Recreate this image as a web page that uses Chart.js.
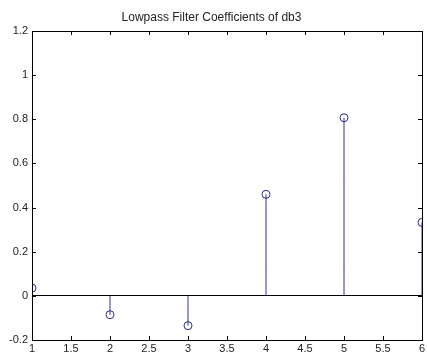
<!DOCTYPE html>
<html>
<head>
<meta charset="utf-8">
<script src="https://cdn.jsdelivr.net/npm/chart.js@4"></script>
<style>
    html, body { margin: 0; padding: 0; background: #fff; }
    #wrap { width: 427px; height: 356px; }
</style>
</head>
<body>
<div id="wrap"><canvas id="stemChart"></canvas></div>
<script>
// db3 lowpass decomposition filter
const indices = [1, 2, 3, 4, 5, 6];
const coeffs = [0.0352, -0.0854, -0.1350, 0.4599, 0.8069, 0.3327];
const xRange = [1, 6];
const yRange = [-0.2, 1.2];

const stemColor = '#2b2b8c';
const tickFont = { family: 'Liberation Sans, Arial', size: 11 };

// one small line dataset per stem: (x,v) -> (x,0)
// tiny tension keeps chart.js off its fast path (which doubles vertical strokes)
const stemSets = indices.map((x, i) => ({
    type: 'line',
    data: [{ x: x, y: coeffs[i] }, { x: x, y: 0 }],
    borderColor: stemColor,
    borderWidth: 1,
    tension: 0.0001,
    pointRadius: 0,
    fill: false
}));

const fmt = v => String(Math.round(v * 10) / 10);

// box + inward ticks like matlab axes
const axesBox = {
    id: 'axesBox',
    afterDraw(chart) {
        const { ctx, chartArea: a, scales } = chart;
        ctx.save();
        ctx.strokeStyle = '#000';
        ctx.lineWidth = 1;
        ctx.strokeRect(Math.round(a.left) + 0.5, Math.round(a.top) + 0.5,
            Math.round(a.right - a.left), Math.round(a.bottom - a.top));
        ctx.beginPath();
        scales.x.ticks.forEach(t => {
            const px = Math.round(scales.x.getPixelForValue(t.value)) + 0.5;
            ctx.moveTo(px, a.bottom); ctx.lineTo(px, a.bottom - 4);
            ctx.moveTo(px, a.top); ctx.lineTo(px, a.top + 4);
        });
        scales.y.ticks.forEach(t => {
            const py = Math.round(scales.y.getPixelForValue(t.value)) + 0.5;
            ctx.moveTo(a.left, py); ctx.lineTo(a.left + 4, py);
            ctx.moveTo(a.right, py); ctx.lineTo(a.right - 4, py);
        });
        ctx.stroke();
        ctx.restore();
    }
};

const ctx = document.getElementById('stemChart').getContext('2d');
new Chart(ctx, {
    type: 'scatter',
    data: {
        datasets: stemSets.concat([{
            data: indices.map((x, i) => ({ x: x, y: coeffs[i] })),
            borderColor: stemColor,
            backgroundColor: 'transparent',
            borderWidth: 1,
            pointRadius: 4,
            pointHoverRadius: 4
        }])
    },
    options: {
        responsive: true,
        maintainAspectRatio: false,
        animation: false,
        layout: { padding: { left: 0, right: 4, top: 0, bottom: 0 } },
        scales: {
            x: {
                type: 'linear',
                min: xRange[0],
                max: xRange[1],
                grid: { display: false, drawTicks: false },
                border: { display: false },
                ticks: {
                    stepSize: 0.5,
                    padding: 2,
                    maxRotation: 0,
                    color: '#222',
                    font: tickFont,
                    callback: fmt
                },
                afterFit: s => { s.height = 16; s.paddingLeft = 0; s.paddingRight = 0; }
            },
            y: {
                min: yRange[0],
                max: yRange[1],
                grid: {
                    drawTicks: false,
                    color: c => (c.tick && Math.abs(c.tick.value) < 1e-9) ? '#000' : 'transparent'
                },
                border: { display: false },
                ticks: {
                    stepSize: 0.2,
                    padding: 4,
                    color: '#222',
                    font: tickFont,
                    callback: fmt
                },
                afterFit: s => { s.width = 32; s.paddingTop = 0; s.paddingBottom = 0; }
            }
        },
        plugins: {
            legend: { display: false },
            tooltip: { enabled: false },
            title: {
                display: true,
                text: 'Lowpass Filter Coefficients of db3',
                color: '#222',
                font: { family: 'Liberation Sans, Arial', size: 12, weight: 'normal' },
                padding: { top: 10, bottom: 6.6 }
            }
        }
    },
    plugins: [axesBox]
});
</script>
</body>
</html>
